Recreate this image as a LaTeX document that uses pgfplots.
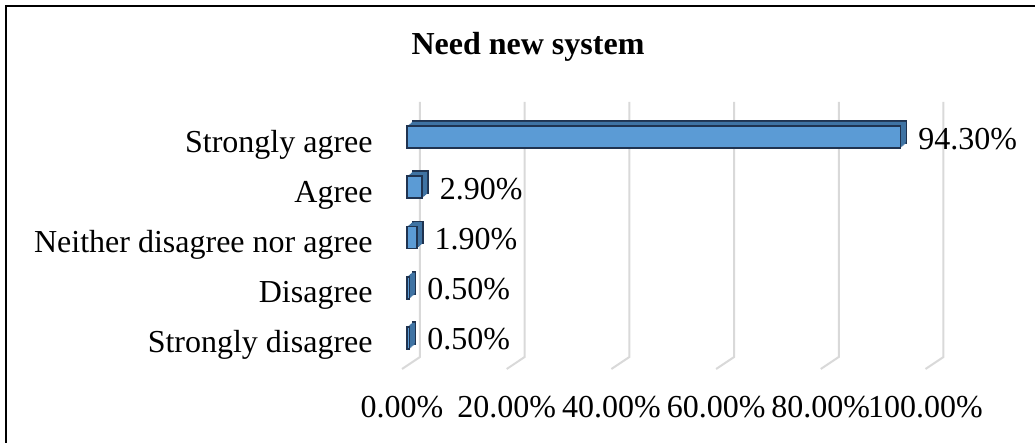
\documentclass[border=0pt]{standalone}
\usepackage{pgfplots}
\pgfplotsset{compat=1.18}
\usepackage{fontspec}
\setmainfont{Liberation Serif}
\definecolor{barfront}{HTML}{5B9BD5}
\definecolor{barside}{HTML}{3F73A3}
\definecolor{baredge}{HTML}{1F3350}
\definecolor{gridcol}{HTML}{D9D9D9}
\begin{document}
\fontsize{16pt}{19pt}\selectfont
\begin{tikzpicture}
\useasboundingbox (0,0) rectangle (517.5pt,221.5pt);
% outer frame (open at right and bottom, as in the reference crop)
\draw[line width=1pt, black] (3pt,-2pt) -- (3pt,218.5pt) -- (520pt,218.5pt);
% title
\node[anchor=base] at (264pt,194pt) {\textbf{Need new system}};
\begin{axis}[
  at={(203.5pt,37pt)}, anchor=south west,
  scale only axis, width=261.75pt, height=133.5pt,
  xmin=0, xmax=100, ymin=-0.617, ymax=4.697,
  enlarge x limits=false, enlarge y limits=false,
  clip=false,
  axis line style={draw=none},
  major tick length=0pt,
  /pgf/number format/assume math mode=true,
  xtick={0,20,40,60,80,100},
  xticklabels={0.00\%,20.00\%,40.00\%,60.00\%,80.00\%,100.00\%},
  xticklabel style={anchor=base, inner sep=0pt, xshift=-2.5pt, yshift=-24.5pt},
  ytick={0,1,2,3,4},
  yticklabels={Strongly disagree,Disagree,Neither disagree nor agree,Agree,Strongly agree},
  yticklabel style={anchor=base east, inner sep=0pt, xshift=-17pt, yshift=-7.5pt},
  bar width=11pt,
]
\pgfplotstableread{
v   y
94.3 4
2.9  3
1.9  2
0.5  1
0.5  0
}\datatab
% 3D-style gridlines (back wall + floor diagonal)
\pgfplotsinvokeforeach{0,20,40,60,80,100}{
  \draw[gridcol, line width=1pt]
    ([xshift=6.5pt]axis cs:#1,4.697) -- ([xshift=6.5pt]axis cs:#1,-0.378)
    -- ([xshift=-2.5pt]axis cs:#1,-0.617);
}
% depth: back face with outline, then extrusion slices
\addplot[xbar, bar shift=0pt, fill=barside, draw=baredge, line width=0.8pt,
         xshift=3pt, yshift=2.5pt] table[x=v,y=y] {\datatab};
\pgfplotsinvokeforeach{2.5,2,1.5,1,0.5}{
  \addplot[xbar, bar shift=0pt, fill=barside, draw=none,
           xshift=#1pt, yshift={#1*0.833pt}] table[x=v,y=y] {\datatab};
}
% front faces with value labels
\addplot[xbar, bar shift=0pt, fill=barfront, draw=baredge, line width=0.8pt,
  nodes near coords={\pgfmathprintnumber[fixed,fixed zerofill,precision=2]{\pgfplotspointmeta}\%},
  nodes near coords style={anchor=base west, inner sep=0pt, xshift=8.5pt, yshift=-6pt, text=black}]
  table[x=v,y=y] {\datatab};
\end{axis}
\end{tikzpicture}
\end{document}
